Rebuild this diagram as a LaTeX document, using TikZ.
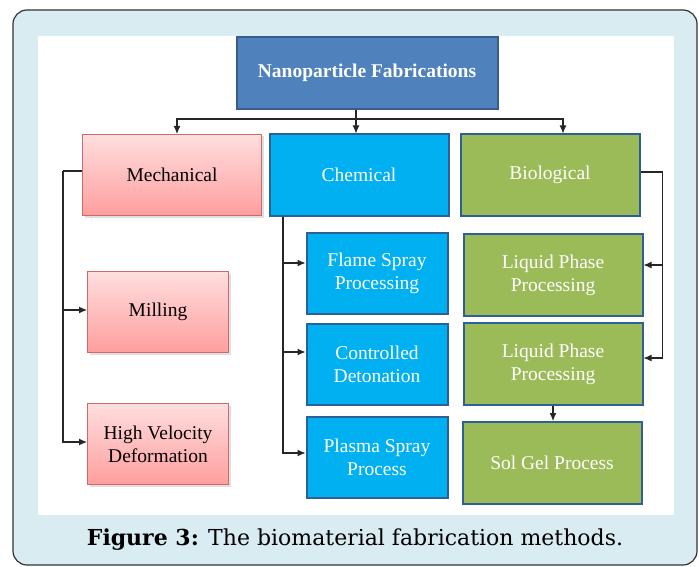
\documentclass[tikz,border=0pt]{standalone}
\usepackage{fontspec}
\setmainfont{Liberation Serif}
\newfontfamily\capfont{DejaVu Serif}
\usetikzlibrary{arrows,arrows.meta,shapes}
\usetikzlibrary{shadows}
\usetikzlibrary{positioning}
\definecolor{framebg}{HTML}{D9ECF2}
\definecolor{rootblue}{HTML}{4F81BD}
\definecolor{rootline}{HTML}{385D8A}
\definecolor{chemblue}{HTML}{00B0F0}
\definecolor{chemline}{HTML}{2F5F97}
\definecolor{biogreen}{HTML}{9BBB59}
\definecolor{mechtop}{HTML}{FFDEDE}
\definecolor{mechbot}{HTML}{FF9E9E}
\definecolor{mechline}{HTML}{D06A68}
\tikzstyle{box}=[rectangle,draw,line width=2pt,align=center,font=\fontsize{19.5}{23}\selectfont,inner sep=2pt]
\tikzstyle{rootbox}=[box,fill=rootblue,draw=rootline,text=white,font=\bfseries\fontsize{19.5}{23}\selectfont]
\tikzstyle{mechbox}=[box,line width=1pt,draw=mechline,top color=mechtop,bottom color=mechbot,text=black,drop shadow={opacity=0.25,shadow xshift=2pt,shadow yshift=-2pt}]
\tikzstyle{chembox}=[box,fill=chemblue,draw=chemline,text=white]
\tikzstyle{biobox}=[box,fill=biogreen,draw=chemline,text=white]
\tikzstyle{edge} = [draw,line width=1.1pt,black!85,-{Latex[length=8pt,width=7pt]}]

\begin{document}
\begin{tikzpicture}[x=1pt,y=-1pt]

  % frame and caption
  \draw[fill=framebg,draw=black!80,line width=1.2pt,rounded corners=14pt] (13,10) rectangle (697,565);
  \fill[white] (38,36) rectangle (674,515);
  \useasboundingbox (0,0) rectangle (699,567);
  \node[font=\capfont\fontsize{22}{26}\selectfont] (caption) at (355,540) {\textbf{Figure 3:} The biomaterial fabrication methods.};

  % top level
  \node[rootbox,minimum width=261pt,minimum height=72pt] (root) at (367,73) {Nanoparticle Fabrications};

  \foreach \x/\y/\name/\style/\label in {172/175/mech/mechbox/Mechanical, 359/175/chem/chembox/Chemical, 550/175/bio/biobox/Biological}
          \node[\style,minimum width=179pt,minimum height=81pt] (\name) at (\x,\y) {\label};

  % second level
  \foreach \x/\y/\name/\style/\label in { 158/312/mill/mechbox/Milling, 158/444/hvd/mechbox/{High Velocity\\Deformation},
                                          377/273/flame/chembox/{Flame Spray\\Processing}, 377/364/ctrl/chembox/{Controlled\\Detonation}, 377/457/plasma/chembox/{Plasma Spray\\Process}}
          \node[\style,minimum width=141pt,minimum height=81pt] (\name) at (\x,\y) {\label};

  \foreach \x/\y/\name/\label in { 553/275/liqa/{Liquid Phase\\Processing}, 553/364/liqb/{Liquid Phase\\Processing}, 552/463/solgel/{Sol Gel Process}}
          \node[biobox,minimum width=179pt,minimum height=82pt] (\name) at (\x,\y) {\label};

  % connectors
  \coordinate (fork) at (356,119);
  \path[edge] (root.south -| fork) -- (chem.north -| fork);
  \path[edge] (fork) -| ([xshift=5pt]mech.north);
  \path[edge] (fork) -| ([xshift=13pt]bio.north);

  \coordinate (mechtrunk) at ([xshift=-19pt,yshift=4pt]mech.west);
  \draw[line width=1.1pt,black!85] ([yshift=4pt]mech.west) -- (mechtrunk);
  \foreach \dest/\dy in {mill/2, hvd/2}
         \path[edge] (mechtrunk) |- ([yshift=\dy pt]\dest.west);

  \coordinate (chemtrunk) at ([xshift=-76pt]chem.south);
  \foreach \dest/\dy in {flame/10, ctrl/12, plasma/4}
         \path[edge] (chemtrunk) |- ([yshift=\dy pt]\dest.west);

  \coordinate (biotrunk) at ([xshift=22pt,yshift=3pt]bio.east);
  \draw[line width=1.1pt,black!85] ([yshift=3pt]bio.east) -- (biotrunk);
  \foreach \dest/\dy in {liqa/10, liqb/6}
         \path[edge] (biotrunk) |- ([yshift=\dy pt]\dest.east);

  \path[edge] (liqb.south) -- (solgel.north -| liqb.south);

\end{tikzpicture}
\end{document}
